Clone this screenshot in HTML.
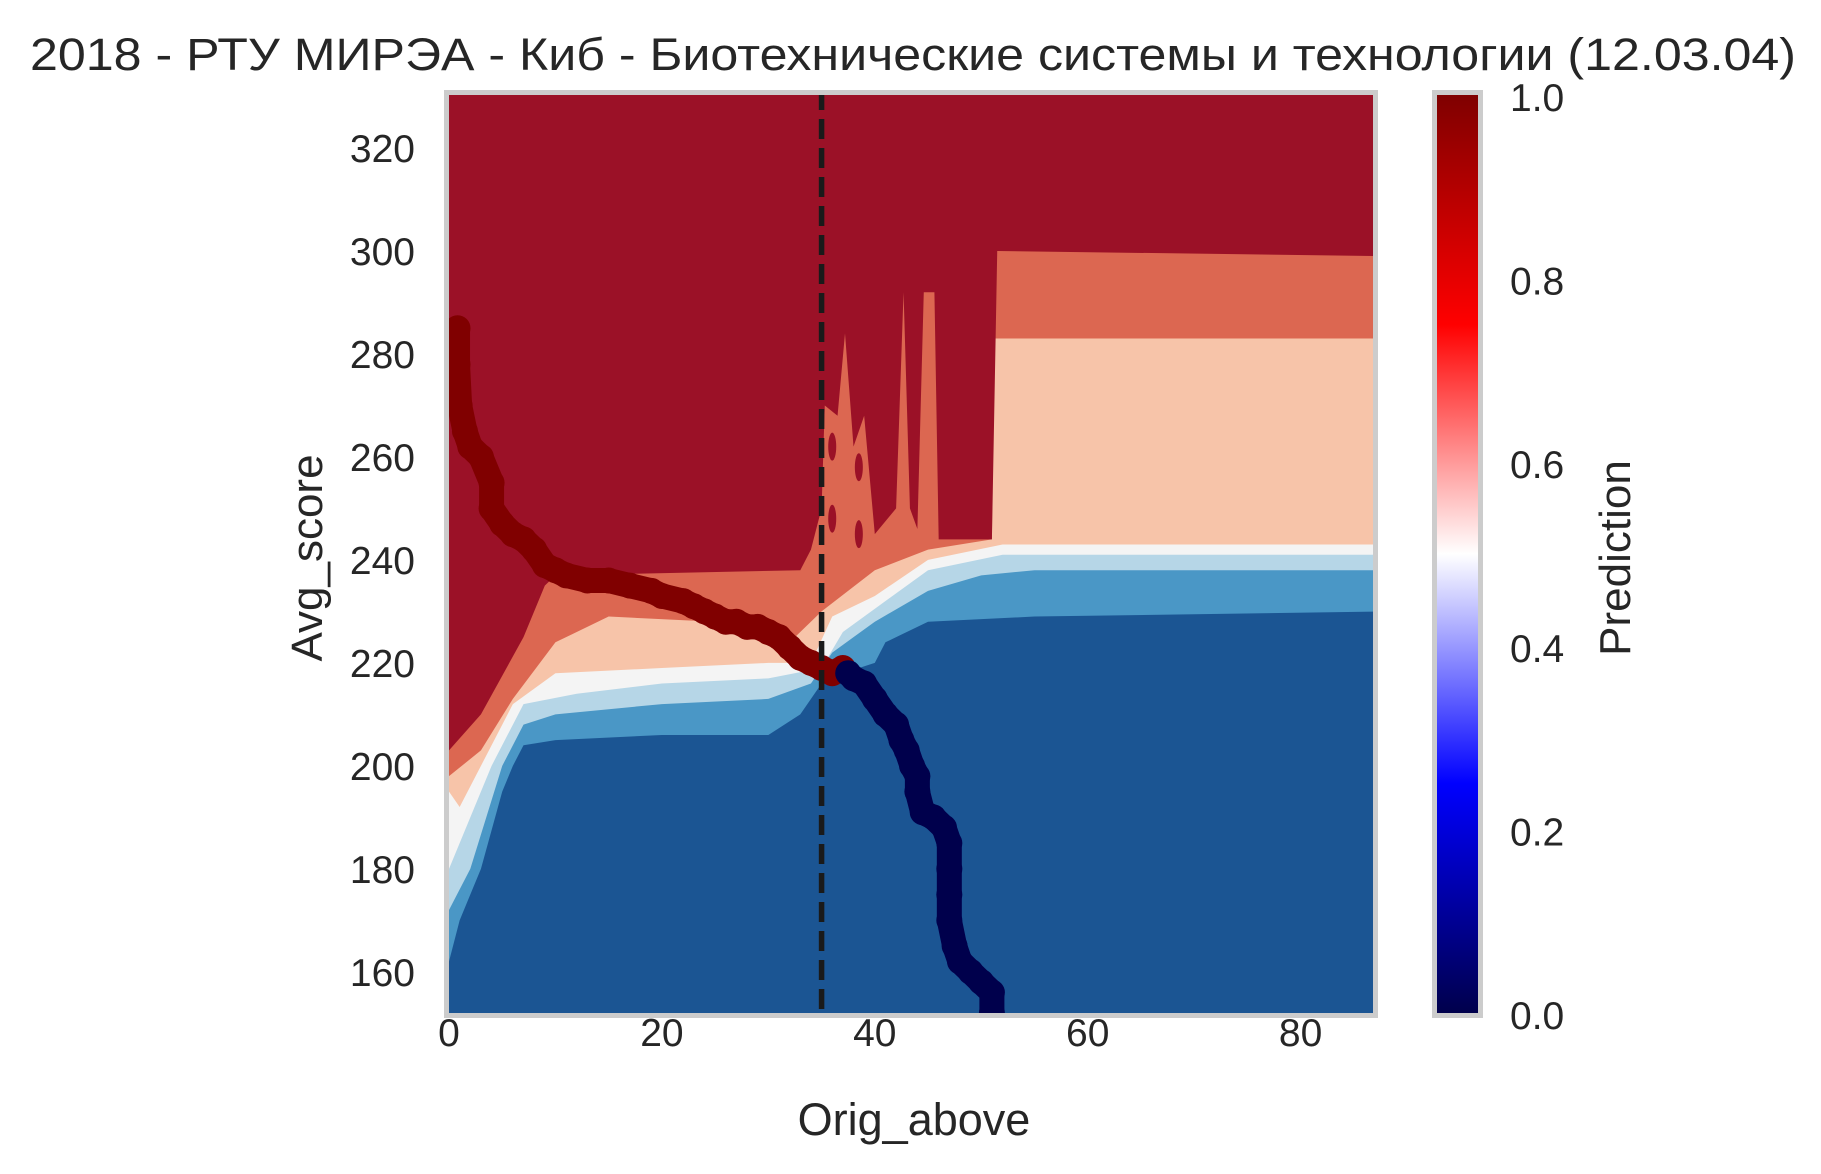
<!DOCTYPE html>
<html><head><meta charset="utf-8"><style>
html,body{margin:0;padding:0;background:#fff;}
svg{display:block;font-family:"Liberation Sans","DejaVu Sans",sans-serif;}
</style></head><body>
<svg id="chart" width="1821" height="1174" viewBox="0 0 1821 1174" xmlns="http://www.w3.org/2000/svg">
<defs>
<linearGradient id="seis" x1="0" y1="1" x2="0" y2="0">
<stop offset="0" stop-color="#00004c"/><stop offset="0.25" stop-color="#0000ff"/><stop offset="0.5" stop-color="#ffffff"/><stop offset="0.75" stop-color="#ff0000"/><stop offset="1" stop-color="#7f0000"/>
</linearGradient>
<clipPath id="pc"><rect x="449" y="95" width="924" height="918"/></clipPath>
</defs>
<text x="913" y="70" font-size="45" fill="#262626" text-anchor="middle" textLength="1766" lengthAdjust="spacingAndGlyphs">2018 - РТУ МИРЭА - Киб - Биотехнические системы и технологии (12.03.04)</text>
<g id="plot" clip-path="url(#pc)"></g>
<rect x="446.5" y="92.5" width="929" height="923" fill="none" stroke="#cccccc" stroke-width="5"/>
<g id="axes"></g>
<rect x="1437" y="95" width="41" height="918" fill="url(#seis)"/>
<rect x="1434.5" y="92.5" width="46" height="923" fill="none" stroke="#cccccc" stroke-width="5"/>
<text x="914" y="1135" font-size="45" fill="#262626" text-anchor="middle">Orig_above</text>
<text x="0" y="0" font-size="44" fill="#262626" text-anchor="middle" transform="translate(322,558) rotate(-90)">Avg_score</text>
<text x="0" y="0" font-size="44" fill="#262626" text-anchor="middle" transform="translate(1630,558) rotate(-90)">Prediction</text>
</svg>
<script>
const xTicks=[0,20,40,60,80];
const yTicks=[160,180,200,220,240,260,280,300,320];
const cbTicks=[0.0,0.2,0.4,0.6,0.8,1.0];
const levelColors=["#4a97c6","#b6d6e7","#f4f4f4","#f7c4a9","#dc6751","#9b1127"];
const bDarkBlue=[[0,162],[1,170],[3,180],[5,195],[6,200],[7,204],[10,205],[20,206],[30,206],[33,210],[35,216],[37,218],[40,220],[41,224],[45,228],[55,229],[88,230]];
const bMidBlue=[[0,172],[2,180],[5,200],[7,208],[10,210],[20,212],[30,213],[34,216],[36,222],[40,228],[45,234],[50,237],[55,238],[88,238]];
const bLightBlue=[[0,180],[2,190],[4,200],[7,212],[12,214],[20,216],[30,217],[35,219],[37,226],[45,238],[52,241],[88,241]];
const bWhite=[[0,195],[1,192],[3,200],[6,212],[10,218],[20,219],[30,220],[34,220],[36,229],[40,233],[45,240],[52,243],[88,243]];
const bSalmon=[[0,198],[3,203],[6,213],[10,224],[15,229],[25,228],[32,224],[35,230],[40,238],[45,242],[51,244],[51.2,283],[88,283]];
const bMidSalmon=[[0,203],[3,210],[7,225],[9,235],[10,237],[33,238],[34,242],[35,250],[35.3,270],[36.5,268],[37.2,284],[38,262],[39,268],[40,245],[42,250],[42.7,292],[43.3,250],[44,246],[44.6,292],[45.6,292],[46,244],[51,244],[51.5,300],[88,299]];
const boundaries=[bDarkBlue,bMidBlue,bLightBlue,bWhite,bSalmon,bMidSalmon];
const blobs=[[36,262],[38.5,258],[36,248],[38.5,245]];
const redPts=[[0.8,285],[0.8,278],[1,270],[1.5,265],[2,262],[3,260],[4,255],[4,250],[5,247],[6,245],[7,244],[8,242],[9,239],[10,238],[11,237],[13,236],[15,236],[17,235],[19,234],[20,233],[22,232],[23,231],[24,230],[25,229],[26,228],[27,228],[28,227],[29,227],[30,226],[31,225],[32,223],[33,221],[34,220],[35,219],[36,218],[37,219]];
const navyPts=[[37.5,218],[38,217],[39,216],[40,213],[41,210],[42,208],[42.5,205],[43,203],[43.5,200],[44,198],[44,195],[44.5,191],[45.5,190],[46.5,188],[47,185],[47,180],[47,175],[47,170],[47.5,165],[48,162],[49,160],[50,158],[51,156],[51,152]];
const cutX=35;
const xMin=0,xMax=86.8,yMin=152,yMax=330.3;
const L=449,R=1373,T=95,B=1013;
const sx=v=>L+(v-xMin)/(xMax-xMin)*(R-L);
const sy=v=>B-(v-yMin)/(yMax-yMin)*(B-T);
const NS="http://www.w3.org/2000/svg";
const plot=document.getElementById('plot');
const axes=document.getElementById('axes');
function mk(tag,attrs,parent){const e=document.createElementNS(NS,tag);for(const k in attrs)e.setAttribute(k,attrs[k]);parent.appendChild(e);return e;}
const bg=mk('rect',{x:L,y:T,width:R-L,height:B-T,fill:"#1b5593"},plot);


boundaries.forEach((b,i)=>{
  let d='M'+sx(b[0][0])+','+sy(yMax+5);
  b.forEach(p=>{d+=' L'+sx(p[0])+','+sy(p[1]);});
  d+=' L'+sx(b[b.length-1][0])+','+sy(yMax+5)+' Z';
  const p=mk('path',{d:d,fill:levelColors[i]},plot);
  
  
});
blobs.forEach(b=>{const e=mk('ellipse',{cx:sx(b[0]),cy:sy(b[1]),rx:4,ry:14,fill:"#9b1127"},plot);
  
  });
function drawPts(pts,color,name){
  const g=mk('g',{},plot);
  
  
  mk('polyline',{points:pts.map(p=>sx(p[0])+','+sy(p[1])).join(' '),fill:'none',stroke:color,'stroke-width':25,'stroke-linejoin':'round','stroke-linecap':'round'},g);
  pts.forEach(p=>{const c=mk('circle',{cx:sx(p[0]),cy:sy(p[1]),r:13,fill:color},g);
    
    });
}
drawPts(redPts,"#800000","points-admitted");
drawPts(navyPts,"#00004c","points-rejected");
const cl=mk('line',{x1:sx(cutX),x2:sx(cutX),y1:T-5,y2:B,stroke:"#1a1a1a","stroke-width":5.5,"stroke-dasharray":"20,9"},plot);


xTicks.forEach(v=>{const t=mk('text',{x:sx(v),y:1046,'font-size':39,fill:'#262626','text-anchor':'middle'},axes);t.textContent=v;
  
  });
yTicks.forEach(v=>{const t=mk('text',{x:415,y:sy(v)+14,'font-size':39,fill:'#262626','text-anchor':'end'},axes);t.textContent=v;
  
  });
cbTicks.forEach(v=>{const t=mk('text',{x:1510,y:B-v*(B-T)+16,'font-size':39,fill:'#262626','text-anchor':'start'},axes);t.textContent=v.toFixed(1);
  
  });
</script>
</body></html>
